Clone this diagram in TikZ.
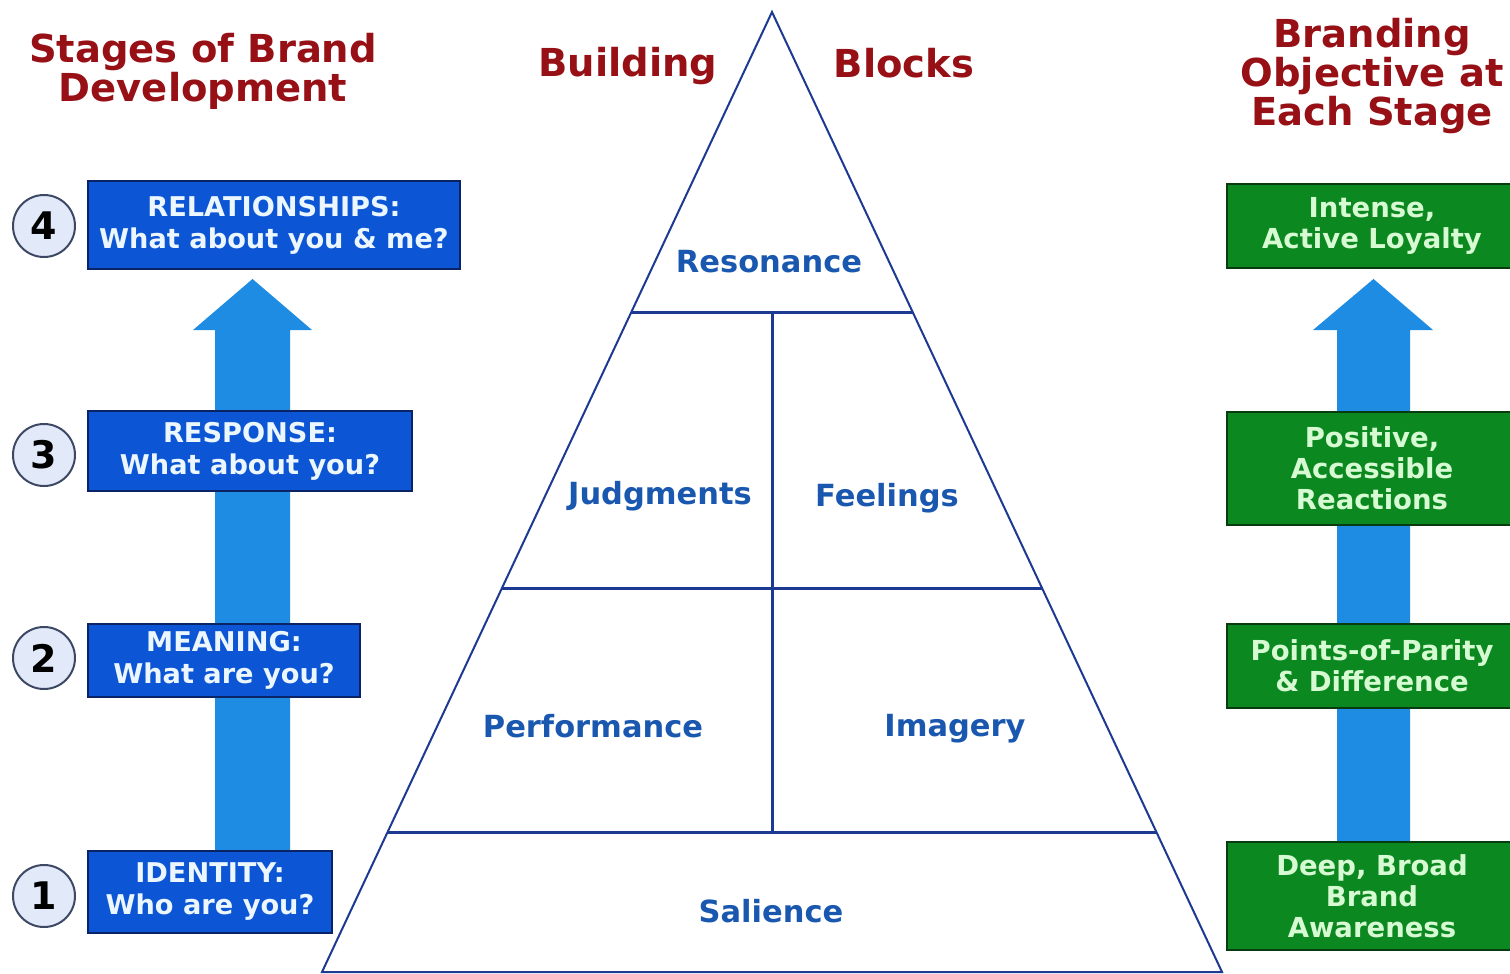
\documentclass[tikz,border=0pt]{standalone}
\usepackage{fontspec}
\setmainfont{DejaVu Sans}
\usepackage{tikz}
\usetikzlibrary{positioning, calc}
\usepackage{xcolor}
\definecolor{titlered}{RGB}{150,16,22}
\definecolor{stageblue}{RGB}{12,86,214}
\definecolor{stageedge}{RGB}{10,35,100}
\definecolor{stagetext}{RGB}{236,246,255}
\definecolor{goalgreen}{RGB}{12,136,32}
\definecolor{goaledge}{RGB}{8,60,16}
\definecolor{goaltext}{RGB}{214,250,210}
\definecolor{arrowblue}{RGB}{30,140,226}
\definecolor{pyramidline}{RGB}{28,58,145}
\definecolor{blocktext}{RGB}{26,88,176}
\definecolor{circlefill}{RGB}{226,234,250}
\definecolor{circleedge}{RGB}{60,72,100}
\tikzset{
  titletext/.style={align=center, inner sep=0pt, text=titlered,
    font=\fontsize{38.5}{39}\selectfont\bfseries},
  stagebox/.style={rectangle, draw=stageedge, line width=2pt, fill=stageblue,
    text=stagetext, align=center, inner sep=0pt, font=\fontsize{27.2}{32}\selectfont\bfseries},
  goalbox/.style={rectangle, draw=goaledge, line width=2pt, fill=goalgreen,
    text=goaltext, align=center, inner sep=0pt, minimum width=290pt,
    font=\fontsize{27.5}{31}\selectfont\bfseries},
  stagenum/.style={circle, draw=circleedge, line width=2pt, fill=circlefill,
    minimum size=62pt, inner sep=0pt, font=\fontsize{38}{38}\selectfont\bfseries},
  blocklabel/.style={text=blocktext, inner sep=0pt, font=\fontsize{30.5}{30}\selectfont\bfseries},
  pyramidedge/.style={draw=pyramidline, line width=2pt, line join=miter},
  divider/.style={draw=pyramidline, line width=3pt},
  bigarrow/.style={fill=arrowblue}
}

\begin{document}
\begin{tikzpicture}[x=1pt, y=-1pt]
  \useasboundingbox (0,0) rectangle (1510,974);

  % column headings
  \node[titletext] (stagetitle) at (203,71) {Stages of Brand\\Development};
  \node[titletext] (building) at (628,66) {Building};
  \node[titletext] (blocks) at (904,63) {Blocks};
  \node[titletext] (goaltitle) at (1372,76) {Branding\\Objective at\\Each Stage};

  % upward arrows behind the boxes
  \fill[bigarrow] (215,851) -- (215,330) -- (193,330) -- (252.5,279)
    -- (312,330) -- (290,330) -- (290,851) -- cycle;
  \fill[bigarrow] (1337,842) -- (1337,330) -- (1313,330) -- (1373.5,279)
    -- (1433,330) -- (1410,330) -- (1410,842) -- cycle;

  % stages
  \node[stagebox, minimum width=372pt, minimum height=88pt] (relation) at (274,225)
    {RELATIONSHIPS:\\What about you \& me?};
  \node[stagebox, minimum width=324pt, minimum height=80pt] (response) at (250,451)
    {RESPONSE:\\What about you?};
  \node[stagebox, minimum width=272pt, minimum height=73pt] (meaning) at (224,660.5)
    {MEANING:\\What are you?};
  \node[stagebox, minimum width=244pt, minimum height=82pt] (identity) at (210,892)
    {IDENTITY:\\Who are you?};
  \node[stagenum] (num4) at (44,226) {4};
  \node[stagenum] (num3) at (44,455) {3};
  \node[stagenum] (num2) at (44,658) {2};
  \node[stagenum] (num1) at (44,896) {1};

  % objectives
  \node[goalbox, minimum height=84pt] (loyalty) at (1372,226)
    {Intense,\\Active Loyalty};
  \node[goalbox, minimum height=113pt] (reactions) at (1372,468.5)
    {Positive,\\Accessible\\Reactions};
  \node[goalbox, minimum height=84pt] (parity) at (1372,666)
    {Points-of-Parity\\\& Difference};
  \node[goalbox, minimum height=108pt] (awareness) at (1372,896)
    {Deep, Broad\\Brand\\Awareness};

  % pyramid
  \coordinate (apex) at (772,12);
  \coordinate (baseL) at (322,972);
  \coordinate (baseR) at (1222,972);
  \coordinate (r1L) at ($(apex)!0.3135!(baseL)$);
  \coordinate (r1R) at ($(apex)!0.3135!(baseR)$);
  \coordinate (r2L) at ($(apex)!0.6!(baseL)$);
  \coordinate (r2R) at ($(apex)!0.6!(baseR)$);
  \coordinate (r3L) at ($(apex)!0.855!(baseL)$);
  \coordinate (r3R) at ($(apex)!0.855!(baseR)$);
  \draw[pyramidedge] (apex) -- (baseL) -- (baseR) -- cycle;
  \draw[divider] (r1L) -- (r1R);
  \draw[divider] (r2L) -- (r2R);
  \draw[divider] (r3L) -- (r3R);
  \draw[divider] ($(r1L)!0.5!(r1R)$) -- ($(r3L)!0.5!(r3R)$);

  \node[blocklabel] (resonance) at (769,262) {Resonance};
  \node[blocklabel] (judgments) at (660,496) {Judgments};
  \node[blocklabel] (feelings) at (887,498) {Feelings};
  \node[blocklabel] (performance) at (593,726) {Performance};
  \node[blocklabel] (imagery) at (955,729) {Imagery};
  \node[blocklabel] (salience) at (771,911) {Salience};
\end{tikzpicture}
\end{document}
